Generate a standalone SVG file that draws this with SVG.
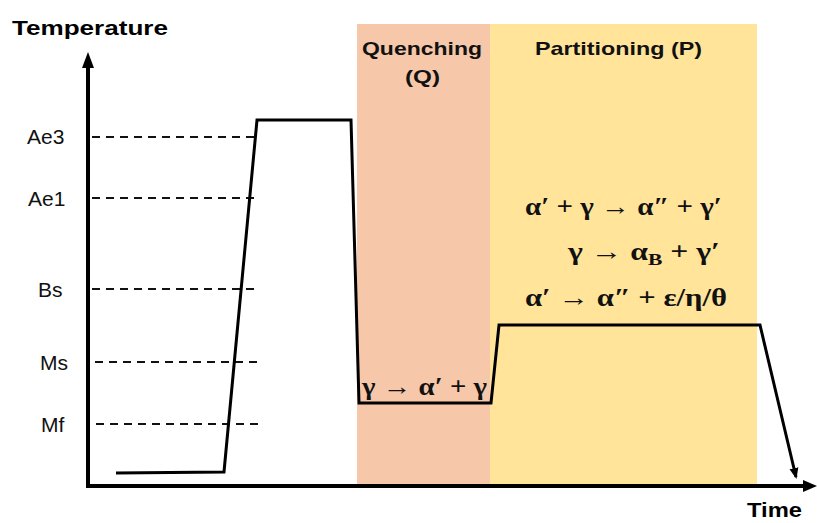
<svg xmlns="http://www.w3.org/2000/svg" width="817" height="523" viewBox="0 0 817 523">
<style>
.lbl{font-family:"Liberation Sans",Arial,sans-serif;font-size:21px;fill:#111}
.hdr{font-family:"Liberation Sans",Arial,sans-serif;font-size:19px;font-weight:bold;fill:#111}
.ttl{font-family:"Liberation Sans",Arial,sans-serif;font-size:21px;font-weight:bold;fill:#000}
.eq{font-family:"Liberation Serif","DejaVu Serif",serif;font-size:25px;font-weight:bold;fill:#111}
.dash{stroke:#111;stroke-width:2;stroke-dasharray:8 6;fill:none}
.curve{stroke:#000;stroke-width:3;fill:none;stroke-linejoin:miter}
</style>
<defs>
<marker id="ah" markerWidth="12" markerHeight="12" refX="9" refY="6" orient="auto" markerUnits="userSpaceOnUse">
<path d="M0,1.5 L11,6 L0,10.5 Z" fill="#000"/>
</marker>
</defs>
<g id="zones">
<rect id="quench-zone" x="357" y="24" width="133" height="462" fill="#F6C7A9"/>
<rect id="partition-zone" x="490" y="24" width="267" height="462" fill="#FFE49A"/>
</g>
<g id="headers">
<text class="hdr" x="362" y="55" textLength="120" lengthAdjust="spacingAndGlyphs">Quenching</text>
<text class="hdr" x="405" y="83" textLength="35" lengthAdjust="spacingAndGlyphs">(Q)</text>
<text class="hdr" x="535" y="55" textLength="167" lengthAdjust="spacingAndGlyphs">Partitioning (P)</text>
</g>
<g id="guides">
<line class="dash" x1="92" y1="137" x2="257" y2="137"/>
<line class="dash" x1="92" y1="198" x2="258" y2="198"/>
<line class="dash" x1="92" y1="289" x2="258" y2="289"/>
<line class="dash" x1="95" y1="362" x2="263" y2="362"/>
<line class="dash" x1="96" y1="424" x2="263" y2="424"/>
</g>
<g id="temp-labels">
<text class="lbl" x="27" y="144">Ae3</text>
<text class="lbl" x="28" y="206">Ae1</text>
<text class="lbl" x="38" y="297">Bs</text>
<text class="lbl" x="40" y="370">Ms</text>
<text class="lbl" x="41" y="432">Mf</text>
</g>
<g id="axes">
<line x1="88" y1="486" x2="88" y2="64" stroke="#000" stroke-width="4"/>
<path d="M88,52 L94,68 L82,68 Z" fill="#000"/>
<line x1="86" y1="486" x2="806" y2="486" stroke="#000" stroke-width="4"/>
<path d="M817,486 L803,480 L803,492 Z" fill="#000"/>
<text class="ttl" x="12" y="35" textLength="156" lengthAdjust="spacingAndGlyphs">Temperature</text>
<text class="ttl" x="747" y="517" textLength="55" lengthAdjust="spacingAndGlyphs">Time</text>
</g>
<g id="connectors">
<path class="curve" d="M116,473 L224,472 L257,120 L351,120 L359,403 L491,403 L499,325 L760,325 L796,477" marker-end="url(#ah)"/>
</g>
<g id="equations">
<text class="eq" x="362" y="395" textLength="125" lengthAdjust="spacingAndGlyphs">γ → α′ + γ</text>
<text class="eq" x="525" y="215" textLength="197" lengthAdjust="spacingAndGlyphs">α′ + γ → α″ + γ′</text>
<text class="eq" x="568" y="260" textLength="152" lengthAdjust="spacingAndGlyphs">γ → α<tspan font-size="17" dy="5">B</tspan><tspan dy="-5"> + γ′</tspan></text>
<text class="eq" x="525" y="306" textLength="202" lengthAdjust="spacingAndGlyphs">α′ → α″ + ε/η/θ</text>
</g>
</svg>
